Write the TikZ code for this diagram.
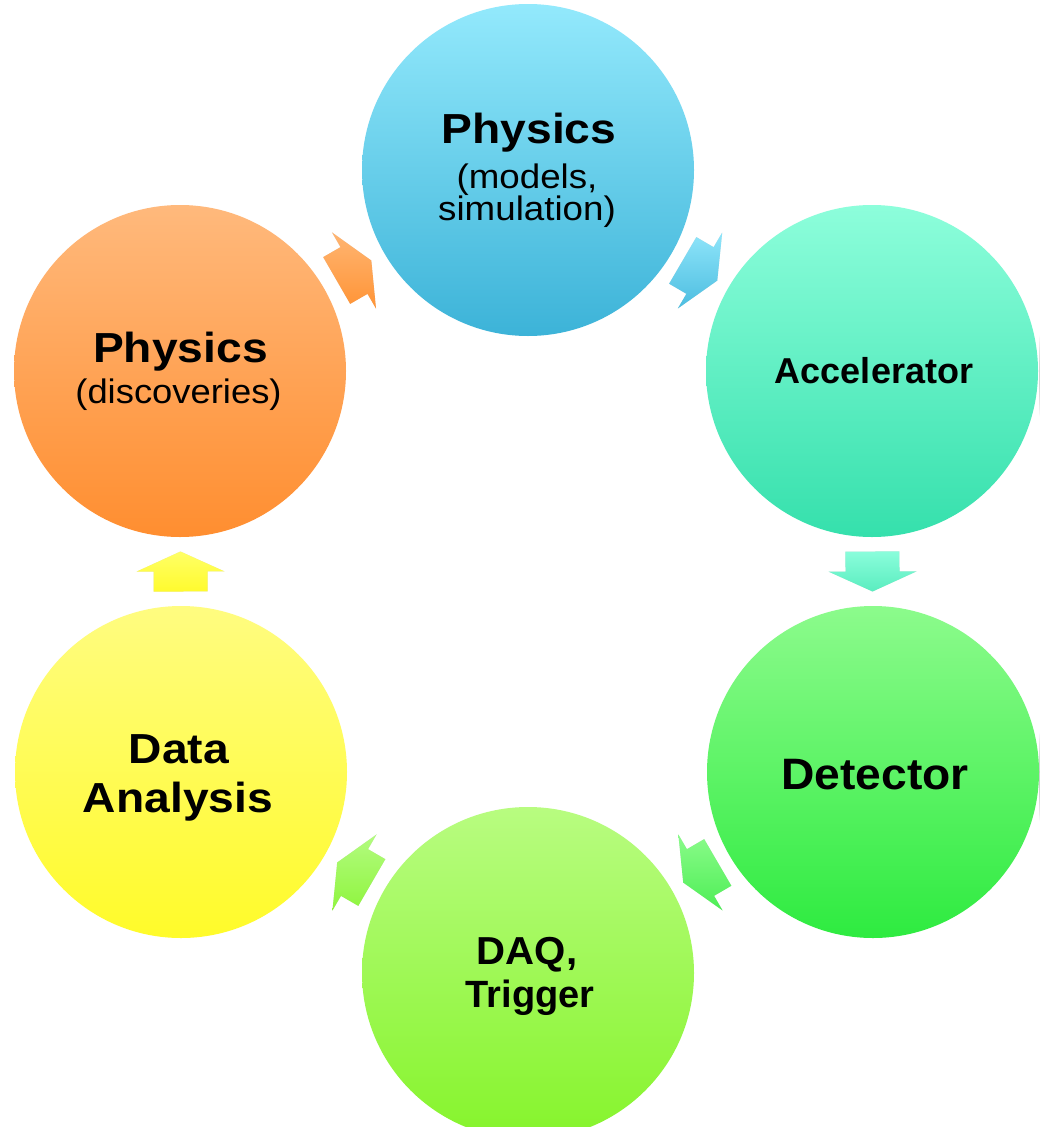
\documentclass[tikz,border=0pt]{standalone}
\usepackage{fontspec}
\setmainfont{Liberation Sans}
\usepackage{graphicx}
\usetikzlibrary{calc,backgrounds}
\definecolor{pAt}{HTML}{93E9FC}\definecolor{pAb}{HTML}{3CB3D8}
\definecolor{acT}{HTML}{8DFEDB}\definecolor{acB}{HTML}{35E0AC}
\definecolor{deT}{HTML}{8CFB8C}\definecolor{deB}{HTML}{2EEB40}
\definecolor{dqT}{HTML}{B8FC80}\definecolor{dqB}{HTML}{86F42C}
\definecolor{daT}{HTML}{FFFC80}\definecolor{daB}{HTML}{FFFB2A}
\definecolor{diT}{HTML}{FFB97C}\definecolor{diB}{HTML}{FF8E30}
\definecolor{a1T}{HTML}{FFB572}\definecolor{a1B}{HTML}{FF9436}
\definecolor{a2T}{HTML}{8FE5FA}\definecolor{a2B}{HTML}{4CBDE0}
\definecolor{a3T}{HTML}{8AFDDB}\definecolor{a3B}{HTML}{5AEDBF}
\definecolor{a4T}{HTML}{8AFB8A}\definecolor{a4B}{HTML}{4DEE55}
\definecolor{a5T}{HTML}{B3FB80}\definecolor{a5B}{HTML}{8FF53E}
\definecolor{a6T}{HTML}{FFFF66}\definecolor{a6B}{HTML}{FFFB2E}
\tikzset{
  ball/.style={circle, inner sep=0pt, minimum size=332pt, draw=none},
  lbl/.style={anchor=base, inner sep=0pt, text=black},
  bigb/.style={font=\bfseries\fontsize{42}{42}\selectfont},
  smallr/.style={font=\fontsize{34}{34}\selectfont},
}
% block arrow from node #1 to node #2, gradient #3 -> #4
\newcommand\blockarrow[4]{%
  \fill[black, opacity=0.12, xshift=2pt, yshift=-4pt]
    let \p1=($(#2)-(#1)$), \n1={atan2(\y1,\x1)}, \p2=($(#1)!0.5!(#2)$) in
    ($(\p2)+(\n1+180:20)+(\n1+90:27)$) -- ($(\p2)+(\n1+90:27)$) -- ($(\p2)+(\n1+90:44)$)
    -- ($(\p2)+(\n1:20)$) -- ($(\p2)+(\n1-90:44)$) -- ($(\p2)+(\n1-90:27)$)
    -- ($(\p2)+(\n1+180:20)+(\n1-90:27)$) -- cycle;
  \shade[top color=#3, bottom color=#4]
    let \p1=($(#2)-(#1)$), \n1={atan2(\y1,\x1)}, \p2=($(#1)!0.5!(#2)$) in
    ($(\p2)+(\n1+180:20)+(\n1+90:27)$) -- ($(\p2)+(\n1+90:27)$) -- ($(\p2)+(\n1+90:44)$)
    -- ($(\p2)+(\n1:20)$) -- ($(\p2)+(\n1-90:44)$) -- ($(\p2)+(\n1-90:27)$)
    -- ($(\p2)+(\n1+180:20)+(\n1-90:27)$) -- cycle;
}
\newcommand\softshade[1]{%
  \foreach \k in {0,...,5}{
    \fill[black, opacity=0.035] ($(#1)+(3,-5)$) circle[radius={(169-\k)*1pt}];
  }
}
\begin{document}
\begin{tikzpicture}[x=1pt,y=1pt]
\useasboundingbox (0,0) rectangle (1039,-1127);
\fill[white] (0,0) rectangle (1039,-1127);
% circles
\node[ball, top color=pAt, bottom color=pAb] (p1) at (528,-170) {};
\node[ball, top color=acT, bottom color=acB] (acc) at (872,-371) {};
\node[ball, top color=deT, bottom color=deB] (det) at (873,-772) {};
\node[ball, top color=dqT, bottom color=dqB] (daq) at (528,-973) {};
\node[ball, top color=daT, bottom color=daB] (data) at (181,-772) {};
\node[ball, top color=diT, bottom color=diB] (disc) at (180,-371) {};
\begin{scope}[on background layer]
  \softshade{p1}\softshade{acc}\softshade{det}\softshade{daq}\softshade{data}\softshade{disc}
\end{scope}
% arrows
\blockarrow{disc}{p1}{a1T}{a1B}
\blockarrow{p1}{acc}{a2T}{a2B}
\blockarrow{acc}{det}{a3T}{a3B}
\blockarrow{det}{daq}{a4T}{a4B}
\blockarrow{daq}{data}{a5T}{a5B}
\blockarrow{data}{disc}{a6T}{a6B}
% labels
\node[lbl, bigb] (p1a) at (529,-143) {\scalebox{1.1}[1]{Physics}};
\node[lbl, smallr] (p1b) at (527,-188) {\scalebox{1.08}[1]{(models,}};
\node[lbl, smallr] (p1c) at (527,-220) {\scalebox{1.08}[1]{simulation)}};
\node[lbl, font=\bfseries\fontsize{36}{36}\selectfont] (acca) at (874,-383) {Accelerator};
\node[lbl, font=\bfseries\fontsize{44}{44}\selectfont] (deta) at (875,-789) {\scalebox{1.05}[1]{Detector}};
\node[lbl, font=\bfseries\fontsize{39}{39}\selectfont] (daqa) at (527,-964) {\scalebox{1.03}[1]{DAQ,}};
\node[lbl, font=\bfseries\fontsize{38}{38}\selectfont] (daqb) at (530,-1007) {Trigger};
\node[lbl, bigb] (dataa) at (179,-763) {\scalebox{1.1}[1]{Data}};
\node[lbl, bigb] (datab) at (178,-812) {\scalebox{1.1}[1]{Analysis}};
\node[lbl, bigb] (disca) at (180.5,-362) {\scalebox{1.1}[1]{Physics}};
\node[lbl, smallr] (discb) at (178.5,-403) {\scalebox{1.07}[1]{(discoveries)}};
\end{tikzpicture}
\end{document}
